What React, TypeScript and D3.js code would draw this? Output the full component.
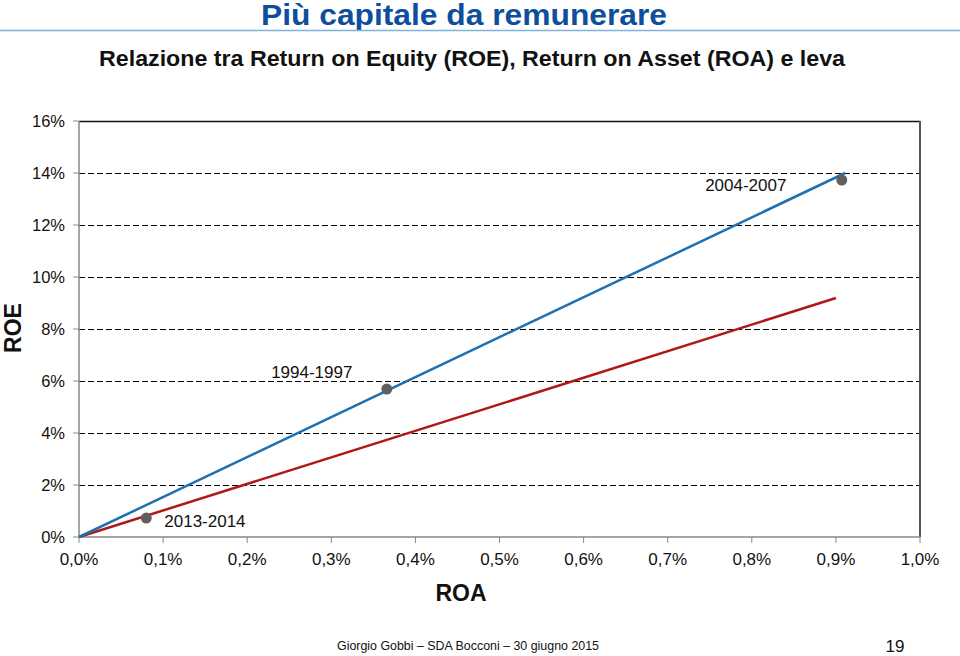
import React from "react";
import * as d3 from "d3";

const yTicks = [0, 2, 4, 6, 8, 10, 12, 14, 16];
const xTicks = [0, 0.1, 0.2, 0.3, 0.4, 0.5, 0.6, 0.7, 0.8, 0.9, 1.0];
const blueLine = [
  { roa: 0, roe: 0 },
  { roa: 0.911, roe: 14.0 },
];
const redLine = [
  { roa: 0, roe: 0 },
  { roa: 0.9, roe: 9.19 },
];
const pointLabels = ["2013-2014", "1994-1997", "2004-2007"];
const pointRoa = [0.08, 0.366, 0.907];
const pointRoe = [0.73, 5.69, 13.73];

const W = 960;
const H = 656;
const left = 79;
const right = 920;
const top = 121;
const bottom = 537;

export default function App() {
  const x = d3.scaleLinear().domain([0, 1]).range([left, right]);
  const y = d3.scaleLinear().domain([0, 16]).range([bottom, top]);
  const line = d3
    .line<{ roa: number; roe: number }>()
    .x((d) => x(d.roa))
    .y((d) => y(d.roe));
  const fmtX = (v: number) => v.toFixed(1).replace(".", ",") + "%";
  const font = "Liberation Sans, Arial, Helvetica, sans-serif";
  const labelPos = [
    { dx: 18, dy: 9, anchor: "start" },
    { dx: -75, dy: -11, anchor: "middle" },
    { dx: -96, dy: 11, anchor: "middle" },
  ];
  return (
    <svg
      width={W}
      height={H}
      style={{ position: "absolute", left: 0, top: 0, background: "#fff" }}
      fontFamily={font}
    >
      <text
        x={464}
        y={25}
        textAnchor="middle"
        fontSize={29}
        fontWeight="bold"
        fill="#0d4f9c"
        textLength={406}
        lengthAdjust="spacingAndGlyphs"
      >
        Più capitale da remunerare
      </text>
      <line x1={0} x2={960} y1={30.5} y2={30.5} stroke="#7fb2dc" strokeWidth={1.5} />
      <text
        x={472}
        y={66}
        textAnchor="middle"
        fontSize={22}
        fontWeight="bold"
        fill="#111"
        textLength={746}
        lengthAdjust="spacingAndGlyphs"
      >
        Relazione tra Return on Equity (ROE), Return on Asset (ROA) e leva
      </text>

      {/* gridlines */}
      {yTicks.slice(1, -1).map((t) => (
        <line
          key={t}
          x1={left}
          x2={right}
          y1={y(t) + 0.5}
          y2={y(t) + 0.5}
          stroke="#000"
          strokeWidth={1.2}
          strokeDasharray="6,3"
          shapeRendering="crispEdges"
        />
      ))}
      <line x1={left} x2={right} y1={y(16) + 0.5} y2={y(16) + 0.5} stroke="#111" strokeWidth={1.5} />
      <line x1={right} x2={right} y1={y(16)} y2={y(0)} stroke="#555" strokeWidth={2} />
      {/* axes */}
      <line x1={left} x2={left} y1={y(16)} y2={y(0)} stroke="#888" strokeWidth={1.5} />
      <line x1={left} x2={right} y1={y(0)} y2={y(0)} stroke="#888" strokeWidth={1.5} />
      {yTicks.map((t) => (
        <g key={"y" + t}>
          <line x1={left - 6} x2={left} y1={y(t)} y2={y(t)} stroke="#888" strokeWidth={1} />
          <text x={65} y={y(t) + 6} textAnchor="end" fontSize={16.5} fill="#111">
            {t}%
          </text>
        </g>
      ))}
      {xTicks.map((t) => (
        <g key={"x" + t}>
          <line x1={x(t)} x2={x(t)} y1={y(0)} y2={y(0) + 6} stroke="#888" strokeWidth={1} />
          <text x={x(t)} y={y(0) + 28} textAnchor="middle" fontSize={17} fill="#111">
            {fmtX(t)}
          </text>
        </g>
      ))}

      <path d={line(redLine) || ""} fill="none" stroke="#b01818" strokeWidth={2.5} />
      <path d={line(blueLine) || ""} fill="none" stroke="#1f70b0" strokeWidth={2.5} />

      {pointLabels.map((lab, i) => (
        <g key={lab}>
          <circle cx={x(pointRoa[i])} cy={y(pointRoe[i])} r={5.5} fill="#5f5f5f" />
          <text
            x={x(pointRoa[i]) + labelPos[i].dx}
            y={y(pointRoe[i]) + labelPos[i].dy}
            textAnchor={labelPos[i].anchor}
            fontSize={17}
            fill="#111"
          >
            {lab}
          </text>
        </g>
      ))}

      <text
        x={0}
        y={0}
        transform={`translate(21,328) rotate(-90)`}
        textAnchor="middle"
        fontSize={23}
        fontWeight="bold"
        fill="#111"
      >
        ROE
      </text>
      <text x={461} y={601} textAnchor="middle" fontSize={23} fontWeight="bold" fill="#111">
        ROA
      </text>

      <text x={337} y={650} fontSize={13.5} fill="#111" textLength={262} lengthAdjust="spacingAndGlyphs">
        Giorgio Gobbi –  SDA Bocconi – 30 giugno 2015
      </text>
      <text x={895} y={652} textAnchor="middle" fontSize={17} fill="#111">
        19
      </text>
    </svg>
  );
}
